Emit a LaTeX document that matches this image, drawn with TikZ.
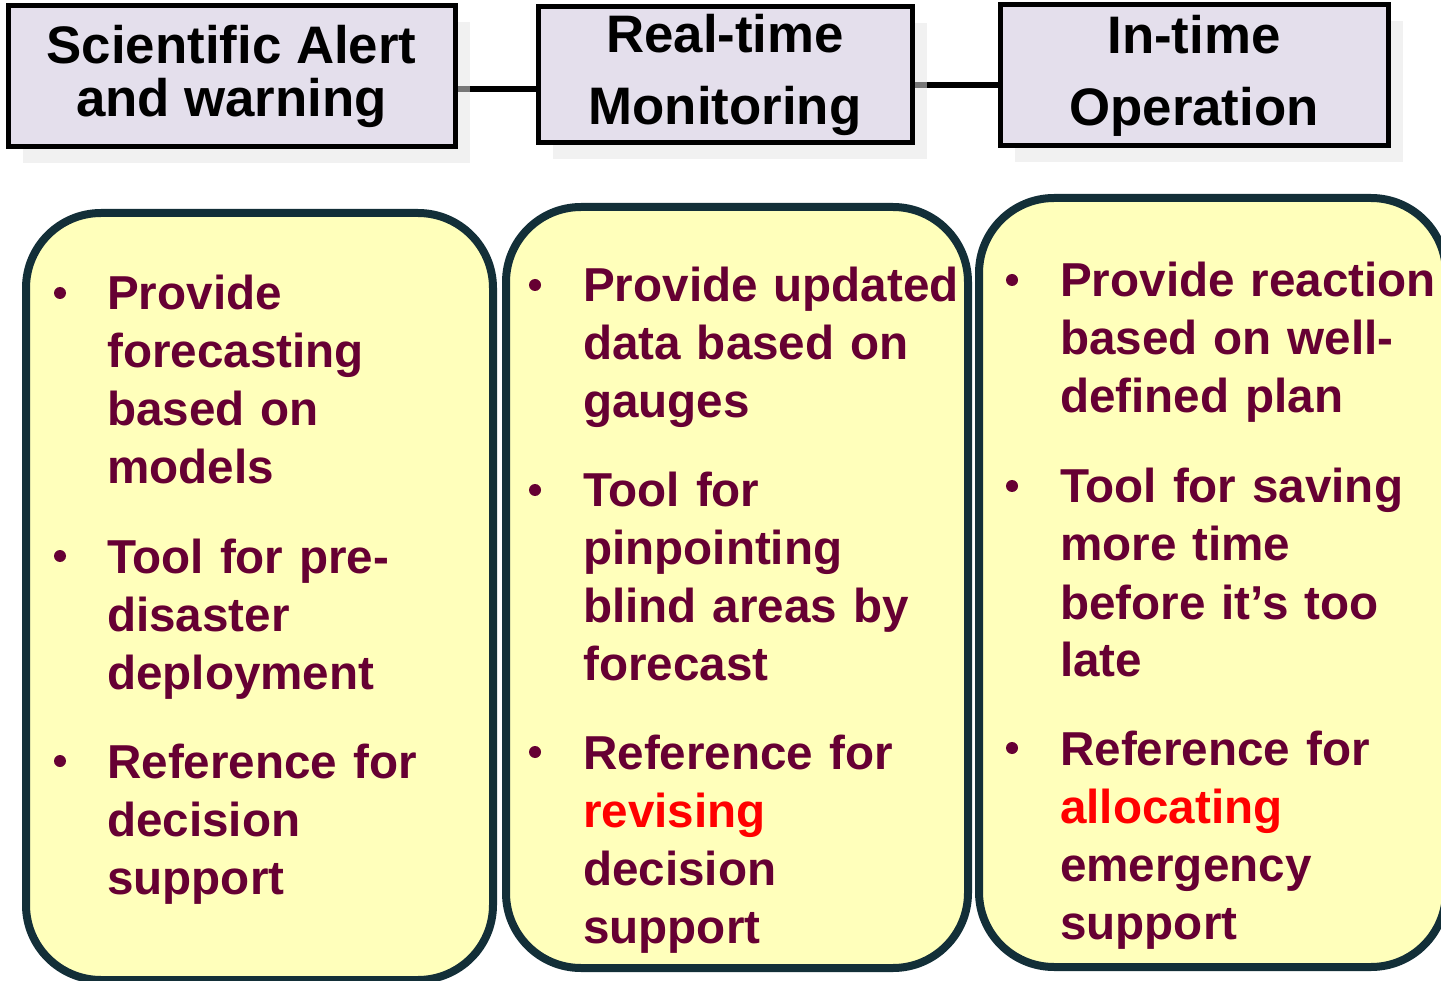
\documentclass[tikz,border=0pt]{standalone}
\usepackage{fontspec}
\setmainfont{Liberation Sans}
\usepackage{xcolor}
\usepackage{tikz}
\usetikzlibrary{shadows,backgrounds}
\definecolor{headfill}{HTML}{E4DFEC}
\definecolor{notefill}{HTML}{FFFFBB}
\definecolor{noteedge}{HTML}{132F38}
\definecolor{noteink}{HTML}{660033}
\definecolor{hotred}{HTML}{FF0000}
\tikzset{
  headbox/.style={draw=black,line width=5pt,fill=headfill,inner sep=0pt,align=center,font=\fontsize{52.8}{53}\selectfont\bfseries,drop shadow={shadow xshift=15pt,shadow yshift=-16pt,fill=black!10,opacity=0.52}},
  notebox/.style={draw=noteedge,line width=8pt,fill=notefill,rounded corners=75pt,inner sep=0pt},
  itemtext/.style={anchor=base west,inner sep=0pt,text width=420pt,align=left,text=noteink,font=\fontsize{47.6}{58}\selectfont\bfseries},
  bulletdot/.style={circle,fill=noteink,inner sep=0pt,minimum size=12pt},
  link/.style={line width=6pt,draw=black},
}
\begin{document}
\begin{tikzpicture}[x=1pt,y=-1pt]
    \clip (0,0) rectangle (1441,981);
    \node[headbox,minimum width=447pt,minimum height=141pt] (alert) at (231.5,76.5) {Scientific Alert\\and warning};
    \node[headbox,minimum width=374pt,minimum height=136pt] (monitor) at (725,75) {Real-time\\[19pt]Monitoring};
    \node[headbox,minimum width=388pt,minimum height=141pt] (operate) at (1194,75.5) {In-time\\[19pt]Operation};
    \begin{scope}[on background layer]
      \draw[link] ([yshift=-12.5pt]alert.east) -- ([yshift=-12.5pt]alert.east -| monitor.west);
      \draw[link] ([yshift=-10pt]monitor.east) -- ([yshift=-10pt]monitor.east -| operate.west);
    \end{scope}
    \node[notebox,minimum width=467pt,minimum height=767pt] (noteA) at (259.5,596.5) {};
    \node[notebox,minimum width=462pt,minimum height=761pt] (noteB) at (737,587.5) {};
    \node[notebox,minimum width=467pt,minimum height=769pt] (noteC) at (1212.5,582.5) {};
    % left column
    \node[itemtext] (a1) at (107,310) {Provide\\forecasting\\based on\\models};
    \node[itemtext] (a2) at (107,573) {Tool for pre-\\disaster\\deployment};
    \node[itemtext] (a3) at (107,778) {Reference for\\decision\\support};
    \node[bulletdot] (ba1) at (60,293) {}; \node[bulletdot] (ba2) at (60,556) {}; \node[bulletdot] (ba3) at (60,761) {};
    % middle column
    \node[itemtext] (b1) at (583,302) {Provide updated\\data based on\\gauges};
    \node[itemtext] (b2) at (583,507) {Tool for\\pinpointing\\blind areas by\\forecast};
    \node[itemtext] (b3) at (583,769) {Reference for\\{\color{hotred}revising}\\decision\\support};
    \node[bulletdot] (bb1) at (535,285) {}; \node[bulletdot] (bb2) at (535,490) {}; \node[bulletdot] (bb3) at (535,752) {};
    % right column
    \node[itemtext] (c1) at (1060,297) {Provide reaction\\based on well-\\defined plan};
    \node[itemtext] (c2) at (1060,503) {Tool for saving\\more time\\before it’s too\\late};
    \node[itemtext] (c3) at (1060,765) {Reference for\\{\color{hotred}allocating}\\emergency\\support};
    \node[bulletdot] (bc1) at (1012,280) {}; \node[bulletdot] (bc2) at (1012,486) {}; \node[bulletdot] (bc3) at (1012,748) {};
  \end{tikzpicture}
\end{document}
